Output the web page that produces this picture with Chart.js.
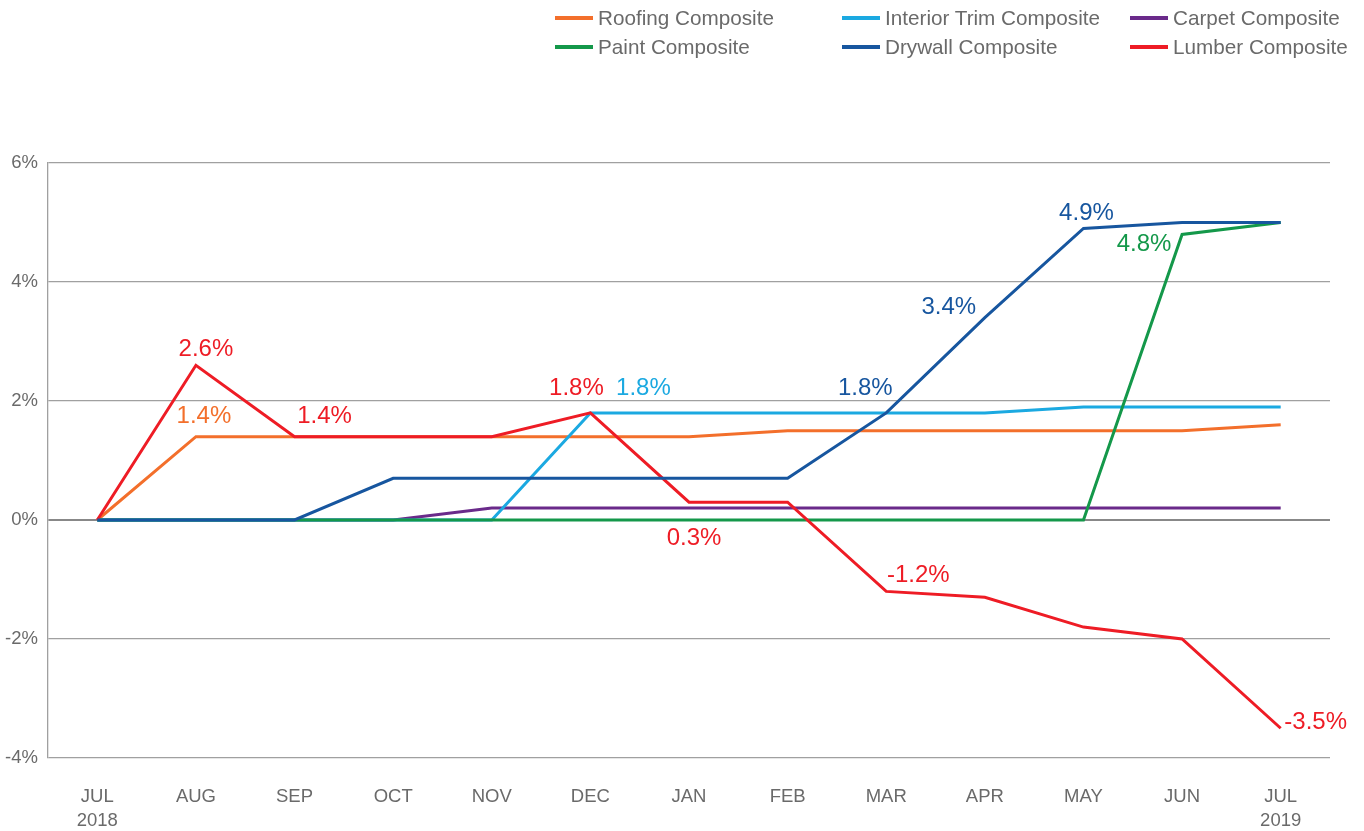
<!DOCTYPE html>
<html>
<head>
<meta charset="utf-8">
<script src="https://cdn.jsdelivr.net/npm/chart.js@4"></script>
<style>
  html, body { margin: 0; padding: 0; background: #fff; }
  #wrap { position: relative; width: 1364px; height: 831px; }
  canvas { position: absolute; left: 0; top: 0; }
  .leg { position: absolute; font-family: "Liberation Sans", Arial, sans-serif; font-size: 20.7px; color: #6a6a6a; white-space: nowrap; line-height: 20px; }
  .leg i { position: absolute; left: -43px; top: 8px; width: 38px; height: 4px; display: block; }
</style>
</head>
<body>
<div id="wrap">
  <canvas id="c" width="1364" height="831"></canvas>
</div>
<script>
const categories = [['JUL','2018'],'AUG','SEP','OCT','NOV','DEC','JAN','FEB','MAR','APR','MAY','JUN',['JUL','2019']];
const yTicks = [-4, -2, 0, 2, 4, 6];

const roofing      = [0, 1.4, 1.4, 1.4, 1.4, 1.4, 1.4, 1.5, 1.5, 1.5, 1.5, 1.5, 1.6];
const interiorTrim = [0, 0, 0, 0, 0, 1.8, 1.8, 1.8, 1.8, 1.8, 1.9, 1.9, 1.9];
const carpet       = [0, 0, 0, 0, 0.2, 0.2, 0.2, 0.2, 0.2, 0.2, 0.2, 0.2, 0.2];
const paint        = [0, 0, 0, 0, 0, 0, 0, 0, 0, 0, 0, 4.8, 5.0];
const drywall      = [0, 0, 0, 0.7, 0.7, 0.7, 0.7, 0.7, 1.8, 3.4, 4.9, 5.0, 5.0];
const lumber       = [0, 2.6, 1.4, 1.4, 1.4, 1.8, 0.3, 0.3, -1.2, -1.3, -1.8, -2.0, -3.5];

const seriesNames = ['Roofing Composite','Interior Trim Composite','Carpet Composite','Paint Composite','Drywall Composite','Lumber Composite'];
const seriesColors = ['#F36F2B','#1BA9E1','#6A2A8A','#14984A','#17569F','#EE1C25'];
const seriesData = [roofing, interiorTrim, carpet, paint, drywall, lumber];
// drawing order (lower = on top)
const drawOrder = [5, 3, 6, 2, 0, 1];

// legend (HTML, 3 columns x 2 rows)
const legPos = [[598, 8], [885, 8], [1173, 8], [598, 37], [885, 37], [1173, 37]];
const wrap = document.getElementById('wrap');
seriesNames.forEach((n, i) => {
  const d = document.createElement('div');
  d.className = 'leg';
  d.style.left = legPos[i][0] + 'px';
  d.style.top = legPos[i][1] + 'px';
  d.innerHTML = '<i style="background:' + seriesColors[i] + '"></i>' + n;
  wrap.appendChild(d);
});

// data label placements: [seriesIndex, pointIndex, dx, dy]
const labelSpecs = [
  [5, 1, 10, -16],
  [0, 1, 8, -20],
  [5, 2, 30, -20],
  [5, 5, -14, -25],
  [1, 5, 53, -25],
  [5, 6, 5, 36],
  [4, 8, -21, -25],
  [4, 9, -36, -10],
  [4, 10, 3, -15],
  [3, 11, -38, 10],
  [5, 8, 32, -16],
  [5, 12, 35, -6]
];

const labelPlugin = {
  id: 'pointLabels',
  afterDatasetsDraw(chart) {
    const ctx = chart.ctx;
    ctx.save();
    ctx.font = '24px "Liberation Sans", Arial, sans-serif';
    ctx.textAlign = 'center';
    ctx.textBaseline = 'middle';
    labelSpecs.forEach(([si, pi, dx, dy]) => {
      const meta = chart.getDatasetMeta(si);
      const pt = meta.data[pi];
      const v = seriesData[si][pi];
      ctx.fillStyle = seriesColors[si];
      ctx.fillText(v.toFixed(1) + '%', pt.x + dx, pt.y + dy);
    });
    ctx.restore();
  }
};

Chart.defaults.font.family = '"Liberation Sans", Arial, sans-serif';
Chart.defaults.color = '#6a6a6a';

new Chart(document.getElementById('c'), {
  type: 'line',
  data: {
    labels: categories,
    datasets: seriesNames.map((n, i) => ({
      label: n,
      data: seriesData[i],
      borderColor: seriesColors[i],
      backgroundColor: seriesColors[i],
      borderWidth: 3,
      pointRadius: 0,
      tension: 0,
      fill: false,
      order: drawOrder[i]
    }))
  },
  options: {
    responsive: false,
    devicePixelRatio: 1,
    animation: false,
    layout: { padding: { top: 163, right: 34, left: 0, bottom: 0 } },
    plugins: { legend: { display: false }, tooltip: { enabled: false } },
    scales: {
      x: {
        type: 'category',
        offset: true,
        grid: { display: false, drawTicks: false },
        border: { display: false },
        ticks: { font: { size: 18.5, lineHeight: 1.3 }, color: '#6a6a6a', padding: 27, maxRotation: 0, autoSkip: false },
        afterFit(s) { s.height = 73; }
      },
      y: {
        min: -4,
        max: 6,
        afterBuildTicks(s) { s.ticks = yTicks.map(v => ({ value: v })); },
        grid: {
          drawTicks: false,
          color: ctx => (ctx.tick && ctx.tick.value === 0) ? '#888' : '#a0a0a0',
          lineWidth: ctx => (ctx.tick && ctx.tick.value === 0) ? 2 : 1.3
        },
        border: { display: true, color: '#a0a0a0', width: 1.3 },
        ticks: { font: { size: 18.5 }, color: '#6a6a6a', padding: 10, callback: v => v + '%' },
        afterFit(s) { s.width = 48; }
      }
    }
  },
  plugins: [labelPlugin]
});
</script>
</body>
</html>
